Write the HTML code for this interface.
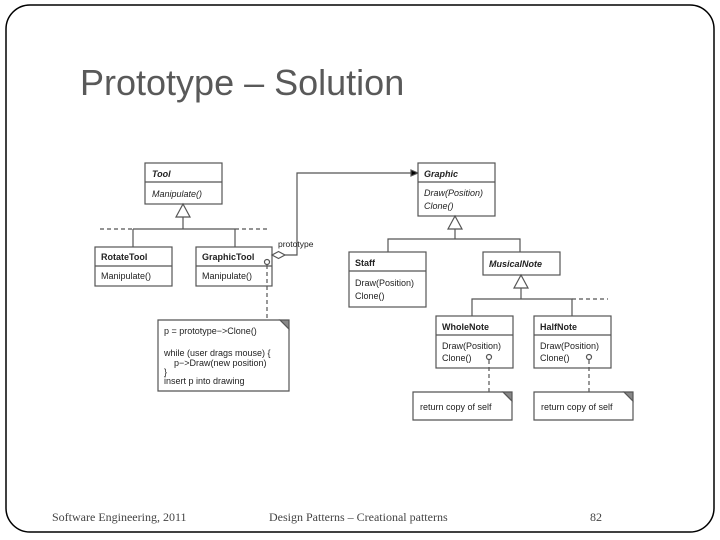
<!DOCTYPE html><html><head><style>body{margin:0;background:#fff}svg{display:block}</style></head><body>
<svg width="720" height="540" xmlns="http://www.w3.org/2000/svg" font-family="Liberation Sans, sans-serif">
<rect x="6" y="5" width="708" height="527" rx="24" fill="#fff" stroke="#000" stroke-width="1.5"/>
<text x="80" y="95" font-size="36" fill="#595959">Prototype – Solution</text>
<g stroke="#555" fill="#fff" stroke-width="1.2">
<rect x="145" y="163" width="77" height="41"/><line x1="145" y1="182" x2="222" y2="182"/>
<rect x="95" y="247" width="77" height="39"/><line x1="95" y1="266" x2="172" y2="266"/>
<rect x="196" y="247" width="76" height="39"/><line x1="196" y1="266" x2="272" y2="266"/>
<line x1="183" y1="217" x2="183" y2="229"/><polygon points="183,204 176,217 190,217"/>
<line x1="133" y1="229" x2="235" y2="229"/><line x1="133" y1="229" x2="133" y2="247"/><line x1="235" y1="229" x2="235" y2="247"/>
<line x1="100" y1="229" x2="133" y2="229" stroke-dasharray="4,3"/><line x1="235" y1="229" x2="270" y2="229" stroke-dasharray="4,3"/>
<polyline points="285,255 297,255 297,173 412,173" fill="none"/>
<polygon points="272,255 278.5,251.5 285,255 278.5,258.5"/>
<polygon points="418,173 411,170 411,176" fill="#000"/>
<circle cx="267" cy="262" r="2.5"/>
<line x1="267" y1="265" x2="267" y2="320" stroke-dasharray="4,3"/>
<polygon points="158,320 280,320 289,329 289,391 158,391"/><polygon points="280,320 289,320 289,329" fill="#888"/>
<rect x="418" y="163" width="77" height="53"/><line x1="418" y1="182" x2="495" y2="182"/>
<line x1="455" y1="229" x2="455" y2="239"/><polygon points="455,216 448,229 462,229"/>
<polyline points="388,252 388,239 520,239 520,252" fill="none"/>
<rect x="349" y="252" width="77" height="55"/><line x1="349" y1="271" x2="426" y2="271"/>
<rect x="483" y="252" width="77" height="23"/>
<line x1="521" y1="288" x2="521" y2="299"/><polygon points="521,275 514,288 528,288"/>
<polyline points="472,316 472,299 572,299 572,316" fill="none"/>
<line x1="572" y1="299" x2="608" y2="299" stroke-dasharray="4,3"/>
<rect x="436" y="316" width="77" height="52"/><line x1="436" y1="335" x2="513" y2="335"/>
<rect x="534" y="316" width="77" height="52"/><line x1="534" y1="335" x2="611" y2="335"/>
<circle cx="489" cy="357" r="2.5"/><circle cx="589" cy="357" r="2.5"/>
<line x1="489" y1="360" x2="489" y2="392" stroke-dasharray="4,3"/><line x1="589" y1="360" x2="589" y2="392" stroke-dasharray="4,3"/>
<polygon points="413,392 503,392 512,401 512,420 413,420"/><polygon points="503,392 512,392 512,401" fill="#888"/>
<polygon points="534,392 624,392 633,401 633,420 534,420"/><polygon points="624,392 633,392 633,401" fill="#888"/>
</g>
<g font-size="9" fill="#222">
<text x="152" y="177" font-weight="bold" font-style="italic">Tool</text>
<text x="152" y="197" font-style="italic">Manipulate()</text>
<text x="101" y="260" font-weight="bold">RotateTool</text><text x="101" y="279">Manipulate()</text>
<text x="202" y="260" font-weight="bold">GraphicTool</text><text x="202" y="279">Manipulate()</text>
<text x="278" y="247" font-size="8.5">prototype</text>
<text x="164" y="334">p = prototype−&gt;Clone()</text>
<text x="164" y="356">while (user drags mouse) {</text>
<text x="174" y="366">p−&gt;Draw(new position)</text>
<text x="164" y="375">}</text>
<text x="164" y="384">insert p into drawing</text>
<text x="424" y="177" font-weight="bold" font-style="italic">Graphic</text>
<text x="424" y="196" font-style="italic">Draw(Position)</text><text x="424" y="209" font-style="italic">Clone()</text>
<text x="355" y="266" font-weight="bold">Staff</text><text x="355" y="286">Draw(Position)</text><text x="355" y="299">Clone()</text>
<text x="489" y="267" font-weight="bold" font-style="italic">MusicalNote</text>
<text x="442" y="330" font-weight="bold">WholeNote</text><text x="442" y="349">Draw(Position)</text><text x="442" y="361">Clone()</text>
<text x="540" y="330" font-weight="bold">HalfNote</text><text x="540" y="349">Draw(Position)</text><text x="540" y="361">Clone()</text>
<text x="420" y="410">return copy of self</text><text x="541" y="410">return copy of self</text>
</g>
<g font-family="Liberation Serif, serif" font-size="12" fill="#444">
<text x="52" y="521">Software Engineering, 2011</text>
<text x="269" y="521">Design Patterns – Creational patterns</text>
<text x="590" y="521">82</text>
</g>
</svg></body></html>
